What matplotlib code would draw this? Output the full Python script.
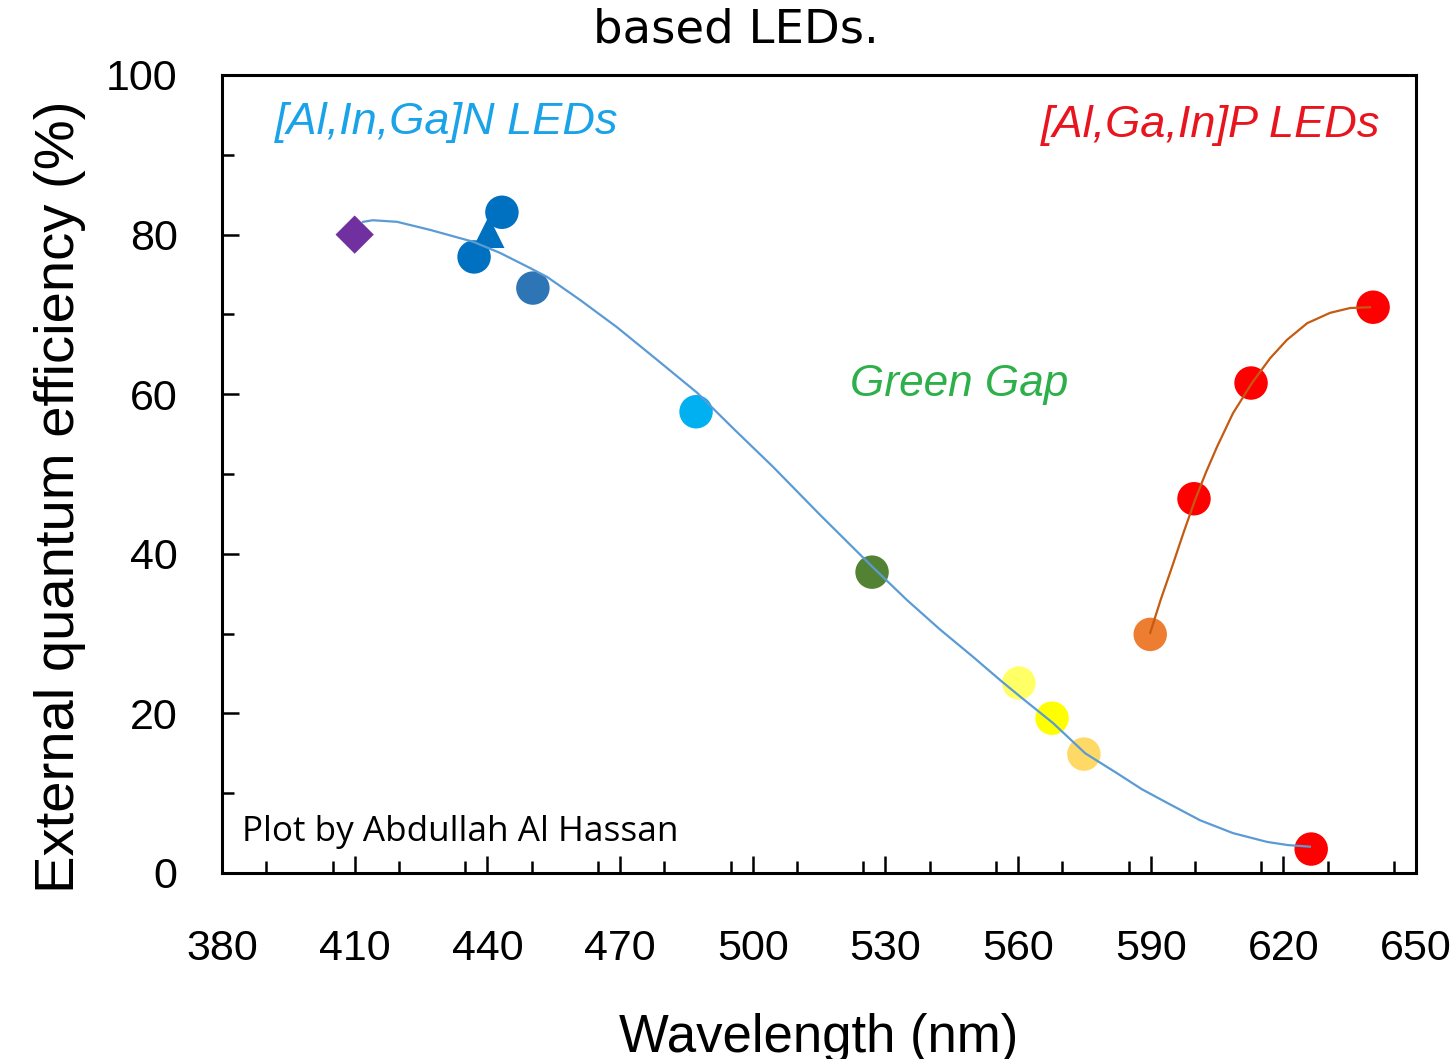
import matplotlib
matplotlib.use("Agg")
import matplotlib.pyplot as plt
from matplotlib.ticker import MultipleLocator

# ---- data ----
diamond_x = [410.0]
diamond_y = [80.0]
triangle_x = [440.3]
triangle_y = [80.3]

circle_x = [437.0, 443.3, 450.3, 487.2, 527.0, 560.2, 567.7, 574.9, 589.9, 599.8, 612.7, 640.3, 626.3]
circle_y = [77.2, 82.8, 73.3, 57.8, 37.7, 23.8, 19.4, 14.9, 29.9, 46.9, 61.4, 70.9, 3.0]
circle_colors = ["#0070C0", "#0070C0", "#2E75B6", "#00B0F0", "#548235", "#FFFF66",
                 "#FFFF00", "#FFD966", "#ED7D31", "#FF0000", "#FF0000", "#FF0000", "#FF0000"]

# fitted trend line for nitride LEDs
nitride_fit_x = [411.9, 414.1, 419.6, 427.0, 436.8, 442.9, 449.7, 453.5, 461.0, 469.3,
                 478.4, 487.4, 496.0, 504.6, 515.2, 527.2, 534.9, 542.4, 549.8, 555.9,
                 560.5, 567.9, 575.2, 582.4, 588.0, 593.7, 601.2, 608.6, 616.3, 621.0, 626.0]
nitride_fit_y = [81.6, 81.8, 81.6, 80.6, 79.1, 77.7, 75.8, 74.7, 71.8, 68.4,
                 64.3, 60.2, 55.5, 50.9, 44.9, 38.3, 34.2, 30.5, 27.1, 24.2,
                 22.1, 18.8, 15.0, 12.5, 10.5, 8.8, 6.6, 5.0, 3.9, 3.5, 3.3]

# fitted trend line for phosphide LEDs
phosphide_fit_x = [589.9, 592.3, 594.8, 597.4, 600.0, 602.5, 605.0, 608.6, 612.9, 617.0,
                   620.8, 625.4, 630.6, 635.1, 639.6]
phosphide_fit_y = [30.1, 34.3, 38.3, 42.6, 46.7, 50.2, 53.4, 57.6, 61.4, 64.5,
                   66.8, 68.9, 70.2, 70.8, 70.9]

x_ticks = [380, 410, 440, 470, 500, 530, 560, 590, 620, 650]
y_ticks = [0, 20, 40, 60, 80, 100]

# ---- figure ----
fig = plt.figure(figsize=(14.54, 10.59), dpi=100)
ax = fig.add_axes([222 / 1454, 1 - 873 / 1059, (1416 - 222) / 1454, (873 - 75) / 1059])

ax.plot(nitride_fit_x, nitride_fit_y, color="#5B9BD5", lw=1.6, zorder=3,
        solid_joinstyle="round")
ax.plot(phosphide_fit_x, phosphide_fit_y, color="#C55A11", lw=1.6, zorder=3,
        solid_joinstyle="round")

ax.scatter(circle_x, circle_y, s=580, c=circle_colors, edgecolors="none", zorder=2)
ax.scatter(triangle_x, triangle_y, s=520, marker="^", c="#0070C0", edgecolors="none", zorder=2)
ax.scatter(diamond_x, diamond_y, s=380, marker="D", c="#7030A0", edgecolors="none", zorder=2)

ax.set_xlim(380, 650)
ax.set_ylim(0, 100)
ax.set_xticks(x_ticks)
ax.set_yticks(y_ticks)
ax.xaxis.set_minor_locator(MultipleLocator(15))
ax.yaxis.set_minor_locator(MultipleLocator(10))

for s in ax.spines.values():
    s.set_linewidth(2.2)
    s.set_color("black")

ax.tick_params(axis="both", which="major", direction="in", length=12, width=1.8,
               top=False, right=False)
ax.tick_params(axis="both", which="minor", direction="in", length=8.5, width=1.8,
               top=False, right=False)
ax.tick_params(axis="x", which="major", pad=40)
ax.tick_params(axis="y", which="major", pad=32)
for lab in ax.get_xticklabels() + ax.get_yticklabels():
    lab.set_fontfamily(["Liberation Sans", "DejaVu Sans"])
    lab.set_fontsize(31)

fig.text(819 / 1454, 1 - 1052 / 1059, "Wavelength (nm)", fontsize=38,
         family=["Liberation Sans", "DejaVu Sans"], ha="center", va="baseline")
fig.text(60 / 1454, 1 - 497 / 1059, "External quantum efficiency (%)", fontsize=40.5,
         family=["Liberation Sans", "DejaVu Sans"], rotation=90, ha="center", va="center")

ax.text(392.0, 94.0, "[Al,In,Ga]N LEDs", color="#1AA3E8", style="italic", fontsize=32.5,
        family=["Liberation Sans", "DejaVu Sans"], ha="left", va="center")
ax.text(641.9, 93.7, "[Al,Ga,In]P LEDs", color="#E8141E", style="italic", fontsize=32.5,
        family=["Liberation Sans", "DejaVu Sans"], ha="right", va="center")
ax.text(522.0, 61.2, "Green Gap", color="#2DB04A", style="italic", fontsize=31.8,
        family=["Liberation Sans", "DejaVu Sans"], ha="left", va="center")
ax.text(384.5, 5.1, "Plot by Abdullah Al Hassan", color="black", fontsize=25.3,
        family=["Open Sans", "DejaVu Sans"], ha="left", va="center")

fig.text(736 / 1454, 1 - 30 / 1059, "based LEDs.", fontsize=33.5, family=["DejaVu Sans"],
         ha="center", va="center")

fig.savefig("out.png", dpi=100)
